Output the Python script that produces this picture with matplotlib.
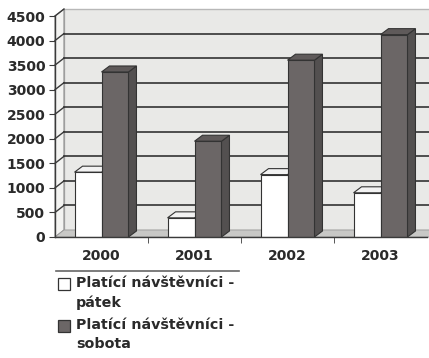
import matplotlib
matplotlib.use("Agg")
import matplotlib.pyplot as plt
from matplotlib.patches import Polygon, Rectangle
from matplotlib.lines import Line2D
from matplotlib.transforms import IdentityTransform
import numpy as np

# ---- data ----
years = ["2000", "2001", "2002", "2003"]
friday = [1320, 390, 1270, 900]
saturday = [3360, 1950, 3600, 4120]
series_labels = ["Platící návštěvníci -\npátek", "Platící návštěvníci -\nsobota"]
yticks = [0, 500, 1000, 1500, 2000, 2500, 3000, 3500, 4000, 4500]

W, H = 429, 358
fig = plt.figure(figsize=(W / 100, H / 100), dpi=100)
fig.patch.set_facecolor("white")
ax = fig.add_axes([55 / W, (H - 237) / H, 372 / W, 221 / H])
ax.set_xlim(-0.5, len(years) - 0.5)
ax.set_ylim(0, 4500)
ax.patch.set_visible(False)
for s in ("top", "right"):
    ax.spines[s].set_visible(False)
for s in ("left", "bottom"):
    ax.spines[s].set_color("#3a3a3a")
    ax.spines[s].set_linewidth(1.0)
    ax.spines[s].set_zorder(50)

font = dict(family="DejaVu Sans", weight="bold", size=10)
ax.set_yticks(yticks)
ax.set_yticklabels([str(v) for v in yticks], fontdict=font, color="#2a2a2a")
x = np.arange(len(years))
ax.set_xticks(x)
ax.set_xticklabels(years, fontdict=font, color="#2a2a2a")
ax.tick_params(axis="x", which="major", length=0, pad=9)
ax.set_xticks(x[:-1] + 0.5, minor=True)
ax.tick_params(axis="x", which="minor", length=4, color="#3a3a3a", direction="out")
ax.tick_params(axis="y", length=4, color="#3a3a3a", pad=3)

# depth offsets in pixels
WDX, WDY = 9, 7
BDX, BDY = 8, 6
ID = IdentityTransform()

def disp(px, py):
    return ax.transData.transform((px, py))

def poly(pts, **kw):
    p = Polygon(np.array(pts), closed=True, transform=ID, clip_on=False, **kw)
    ax.add_patch(p)
    return p

def seg(a, b, **kw):
    ax.add_line(Line2D([a[0], b[0]], [a[1], b[1]], transform=ID, clip_on=False, **kw))

x0, x1 = ax.get_xlim()
# back wall
poly([disp(x0, 0) + (WDX, WDY), disp(x1, 0) + (WDX + 40, WDY),
      disp(x1, 4500) + (WDX + 40, WDY), disp(x0, 4500) + (WDX, WDY)],
     facecolor="#e9e9e7", edgecolor="#b8b8b8", lw=1.0, zorder=1)
# left wall
poly([disp(x0, 0), disp(x0, 4500), disp(x0, 4500) + (WDX, WDY), disp(x0, 0) + (WDX, WDY)],
     facecolor="#f3f3f1", edgecolor="#8a8a8a", lw=0.8, zorder=1.5)
# floor
poly([disp(x0, 0), disp(x1, 0) + (40, 0), disp(x1, 0) + (WDX + 40, WDY), disp(x0, 0) + (WDX, WDY)],
     facecolor="#c8c8c6", edgecolor="#9a9a9a", lw=0.6, zorder=1.6)
# gridlines on back wall + diagonal connectors on the left wall
for v in yticks[1:]:
    a = disp(x0, v)
    b = a + (WDX, WDY)
    e = disp(x1, v) + (WDX + 40, WDY)
    seg(a, b, color="#3a3a3a", lw=1.0, zorder=2)
    if v < 4500:
        seg(b, e, color="#333333", lw=1.2, zorder=2)

# bars with 3D faces
bw = 0.29
series = [
    (friday, -bw / 2, ("#ffffff", "#f2f2f2", "#d6d6d6")),
    (saturday, bw / 2, ("#6b6666", "#5f5a5a", "#535050")),
]
z = 3
for i in range(len(years)):
    for vals, off, (cf, ct, cs) in series:
        h = vals[i]
        bl = x[i] + off - bw / 2
        br = x[i] + off + bw / 2
        poly([disp(br, 0), disp(br, h), disp(br, h) + (BDX, BDY), disp(br, 0) + (BDX, BDY)],
             facecolor=cs, edgecolor="#333333", lw=0.8, zorder=z)
        poly([disp(bl, h), disp(br, h), disp(br, h) + (BDX, BDY), disp(bl, h) + (BDX, BDY)],
             facecolor=ct, edgecolor="#333333", lw=0.8, zorder=z)
        z += 0.01
        ax.bar(x[i] + off, h, width=bw, color=cf, edgecolor="#333333", lw=0.8, zorder=z)
        z += 0.01

# legend (drawn manually so the key square sits beside the first line)
legend_colors = ["#ffffff", "#6b6666"]
leg_top = 277
for k, (lab, col) in enumerate(zip(series_labels, legend_colors)):
    ytop = leg_top + k * 42
    fig.add_artist(Rectangle((58 / W, (H - ytop - 13) / H), 12 / W, 12 / H,
                             transform=fig.transFigure, facecolor=col,
                             edgecolor="#333333", lw=0.9))
    fig.text(76 / W, (H - ytop + 1) / H, lab, ha="left", va="top",
             family="DejaVu Sans", weight="bold", size=10.3, color="#2a2a2a",
             linespacing=1.45)
fig.add_artist(Line2D([56 / W, 239 / W], [(H - 271) / H] * 2, transform=fig.transFigure,
                      color="#666666", lw=1.2))

fig.savefig("out.png", dpi=100)
